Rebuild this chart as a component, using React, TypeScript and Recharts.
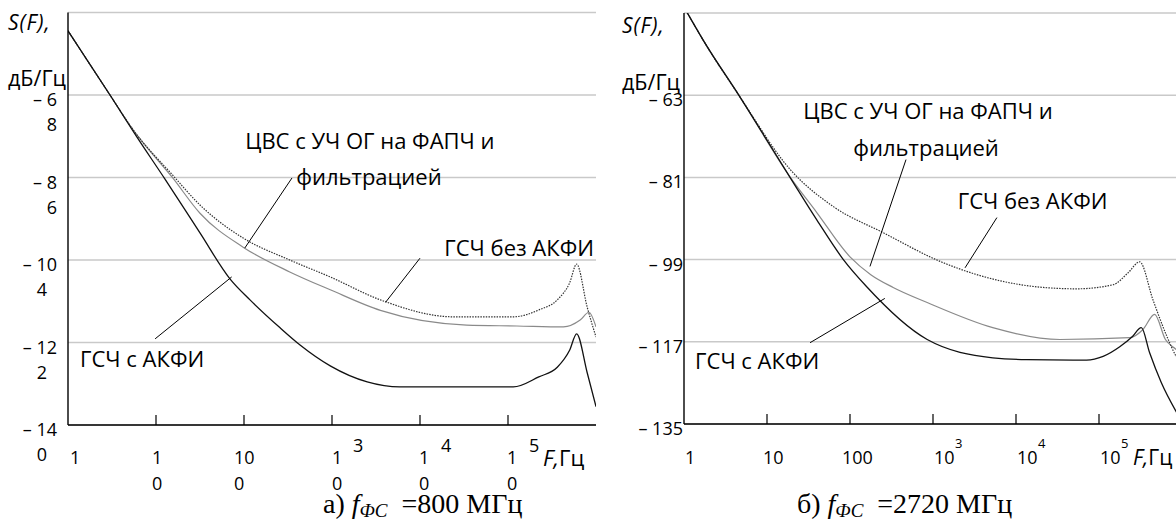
import React from 'react';
import { LineChart, Line, XAxis, YAxis, CartesianGrid, ReferenceLine, ReferenceDot } from 'recharts';

// ---------- axes ----------
const xTicks = [1, 10, 100, 1000, 10000, 100000];
const xTopTicks = [10, 100, 1000, 10000, 100000];

const leftYTicks = [-140, -122, -104, -86, -68];
const leftYLabel1 = ['– 14', '– 12', '– 10', '– 8', '– 6'];
const leftYLabel2 = ['0', '2', '4', '6', '8'];
const leftXLabelTop = ['1', '1', '10', '1', '1', '1'];
const leftXLabelSup = ['', '', '', '3', '4', '5'];
const leftXLabelBottom = ['', '0', '0', '0', '0', '0'];

const rightYTicks = [-135, -117, -99, -81, -63];
const rightYLabels = ['– 135', '– 117', '– 99', '– 81', '– 63'];
const rightXLabelMain = ['1', '10', '100', '10', '10', '10'];
const rightXLabelSup = ['', '', '', '3', '4', '5'];

// ---------- panel a) 800 MHz ----------
const leftAkfiF = [1, 3.0, 6.08, 12.6, 31.6, 69.2, 117, 257, 437, 955, 2512, 5888, 114815, 223872, 363078, 501187, 602560, 794328, 1000000];
const leftAkfiS = [-54.0, -68.0, -77.2, -86.3, -98.1, -108.1, -112.7, -118.8, -122.6, -127.1, -130.6, -131.7, -131.7, -129.5, -127.4, -123.7, -120.1, -128.6, -136];

const leftCvsF = [1, 3.0, 5.5, 15.5, 31.6, 97.7, 331, 955, 3548, 33884, 125893, 426580, 660693, 831764, 1000000];
const leftCvsS = [-54.0, -68.0, -75.6, -86.1, -93.8, -101.2, -106.6, -110.5, -115.0, -118.2, -118.4, -118.6, -117.1, -115.4, -118.6];

const leftNoAkfiF = [1, 3.0, 5.5, 15.5, 31.6, 97.7, 331, 955, 3548, 23988, 114815, 223872, 363078, 501187, 602560, 794328, 1000000];
const leftNoAkfiS = [-54.0, -68.0, -75.6, -85.5, -92.0, -99.2, -104.0, -107.7, -112.7, -116.4, -116.4, -114.9, -112.7, -109.0, -104.9, -114.3, -120.8];

// ---------- panel б) 2720 MHz ----------
const rightAkfiF = [1, 1.79, 4.73, 19.1, 39.8, 83.2, 158, 851, 5248, 13490, 70795, 112202, 177828, 251189, 323594, 407380, 562341, 851138, 1000000];
const rightAkfiS = [-43.7, -51.6, -63.4, -81.1, -90.3, -99.0, -104.9, -116.5, -120.5, -120.9, -121.0, -120.2, -118.1, -115.9, -113.9, -119.4, -125.9, -132.3, -134.5];

const rightCvsF = [1, 1.79, 4.73, 19.1, 39.8, 100, 178, 331, 851, 5248, 33884, 234423, 338844, 467735, 630957, 851138, 1000000];
const rightCvsS = [-43.7, -51.6, -63.4, -81.0, -88.7, -98.4, -102.3, -105.1, -108.4, -113.9, -116.5, -116.1, -114.3, -111.0, -116.5, -118.7, -120];

const rightNoAkfiF = [1, 1.79, 4.73, 19.1, 63.1, 251, 1259, 8511, 21380, 53703, 147911, 223872, 309030, 446684, 660693, 851138, 1000000];
const rightNoAkfiS = [-43.7, -51.6, -63.4, -79.3, -87.4, -93.1, -99.5, -104.1, -105.1, -105.4, -104.5, -101.9, -99.5, -107.8, -115.9, -120.2, -122];

// ---------- annotations (data coordinates) ----------
const seriesNames = ['ЦВС с УЧ ОГ на ФАПЧ и', 'фильтрацией', 'ГСЧ без АКФИ', 'ГСЧ с АКФИ'];
const leftNotes = [
  { text: seriesNames[0], f: 2692, s: -77.8, anchor: 'middle' },
  { text: seriesNames[1], f: 2630, s: -85.7, anchor: 'middle' },
  { text: seriesNames[2], f: 948000, s: -101.2, anchor: 'end' },
  { text: seriesNames[3], f: 1.37, s: -125.4, anchor: 'start' },
];
const leftLeaders = [
  [{ x: 351, y: -86.1 }, { x: 102, y: -101.4 }],
  [{ x: 10000, y: -103.6 }, { x: 4074, y: -113.2 }],
  [{ x: 9.77, y: -121.2 }, { x: 72.4, y: -107.7 }],
];
const rightNotes = [
  { text: seriesNames[0], f: 871, s: -66.2, anchor: 'middle' },
  { text: seriesNames[1], f: 824, s: -74.3, anchor: 'middle' },
  { text: seriesNames[2], f: 15849, s: -85.9, anchor: 'middle' },
  { text: seriesNames[3], f: 1.36, s: -120.9, anchor: 'start' },
];
const rightLeaders = [
  [{ x: 473, y: -77.1 }, { x: 174, y: -100.5 }],
  [{ x: 5888, y: -89.8 }, { x: 2432, y: -100.8 }],
  [{ x: 33, y: -117.2 }, { x: 263, y: -107.5 }],
];

const FONT = '"Open Sans", "Noto Sans", sans-serif';
const SERIF = '"Liberation Serif", "DejaVu Serif", serif';
const TICK_FS = 18;
const NOTE_FS = 22;

const zip = (F: number[], S: number[]) => F.map((f, i) => ({ f, s: S[i] }));

const leftX1Dx = [2, -4, -10, 0, -1, -1];
const rightXDx = [1, -4, -8, 1, 1, 1];

const LeftXTick = (p: any) => {
  const i = xTicks.indexOf(p.payload.value);
  const { x, y } = p;
  return (
    <g>
      {i > 0 && <line x1={x} x2={x} y1={y} y2={y - 10} stroke="#000" strokeWidth={1.2} />}
      <text x={x + leftX1Dx[i]} y={y + 32} textAnchor="start" dominantBaseline="central" fontFamily={FONT} fontSize={TICK_FS} fill="#000">
        {leftXLabelTop[i]}
      </text>
      {leftXLabelSup[i] && (
        <text x={x + 21} y={y + 20} textAnchor="start" dominantBaseline="central" fontFamily={FONT} fontSize={TICK_FS} fill="#000">
          {leftXLabelSup[i]}
        </text>
      )}
      <text x={x + leftX1Dx[i]} y={y + 58} textAnchor="start" dominantBaseline="central" fontFamily={FONT} fontSize={TICK_FS} fill="#000">
        {leftXLabelBottom[i]}
      </text>
    </g>
  );
};

const RightXTick = (p: any) => {
  const i = xTicks.indexOf(p.payload.value);
  const { x, y } = p;
  return (
    <g>
      {i > 0 && <line x1={x} x2={x} y1={y} y2={y - 10} stroke="#000" strokeWidth={1.2} />}
      <text x={x + rightXDx[i]} y={y + 33} textAnchor="start" dominantBaseline="central" fontFamily={FONT} fontSize={TICK_FS} fill="#000">
        {rightXLabelMain[i]}
      </text>
      {rightXLabelSup[i] && (
        <text x={x + 22} y={y + 19} textAnchor="start" dominantBaseline="central" fontFamily={FONT} fontSize={13} fill="#000">
          {rightXLabelSup[i]}
        </text>
      )}
    </g>
  );
};

const TopTick = (p: any) => (
  <line x1={p.x} x2={p.x} y1={p.y} y2={p.y + 10} stroke="#000" strokeWidth={1.2} />
);

const LeftYTick = (p: any) => {
  const i = leftYTicks.indexOf(p.payload.value);
  const { x, y } = p;
  const l1 = leftYLabel1[i];
  const dx2 = l1.length <= 3 ? -11 : -21;
  return (
    <g>
      <text x={x - 11} y={y + 4} textAnchor="end" dominantBaseline="central" fontFamily={FONT} fontSize={TICK_FS} fill="#000">{l1}</text>
      <text x={x + dx2} y={y + 29} textAnchor="end" dominantBaseline="central" fontFamily={FONT} fontSize={TICK_FS} fill="#000">{leftYLabel2[i]}</text>
    </g>
  );
};

const RightYTick = (p: any) => {
  const i = rightYTicks.indexOf(p.payload.value);
  return (
    <text x={p.x - 1} y={p.y + 4} textAnchor="end" dominantBaseline="central" fontFamily={FONT} fontSize={TICK_FS} fill="#000">
      {rightYLabels[i]}
    </text>
  );
};

const noteShape = (text: string, anchor: string) => (p: any) => (
  <text x={p.cx} y={p.cy} textAnchor={anchor as any} dominantBaseline="central" fontFamily={FONT} fontSize={NOTE_FS} fill="#000">
    {text}
  </text>
);

type PanelProps = {
  width: number;
  height: number;
  margin: any;
  yWidth: number;
  yDomain: [number, number];
  yTicks: number[];
  YTick: any;
  XTick: any;
  akfi: { f: number; s: number }[];
  cvs: { f: number; s: number }[];
  noAkfi: { f: number; s: number }[];
  notes: any[];
  leaders: any[];
};

const Panel = (P: PanelProps) => (
  <LineChart width={P.width} height={P.height} margin={P.margin}>
    <CartesianGrid vertical={false} stroke="#c9c9c9" strokeWidth={1.5} yAxisId={0} />
    <XAxis
      dataKey="f"
      type="number"
      scale="log"
      domain={[1, 1000000]}
      allowDataOverflow
      ticks={xTicks}
      interval={0}
      tickSize={0}
      tickMargin={0}
      tickLine={false}
      height={60}
      axisLine={{ stroke: '#000', strokeWidth: 1.4 }}
      tick={P.XTick}
    />
    <XAxis
      xAxisId="top"
      orientation="top"
      dataKey="f"
      type="number"
      scale="log"
      domain={[1, 1000000]}
      allowDataOverflow
      ticks={xTopTicks}
      interval={0}
      tickSize={0}
      tickMargin={0}
      tickLine={false}
      height={0}
      axisLine={{ stroke: '#000', strokeWidth: 1.4 }}
      tick={TopTick}
    />
    <YAxis
      type="number"
      domain={P.yDomain}
      allowDataOverflow
      ticks={P.yTicks}
      interval={0}
      width={P.yWidth}
      tickSize={0}
      tickMargin={0}
      tickLine={false}
      axisLine={{ stroke: '#000', strokeWidth: 1.4 }}
      tick={P.YTick}
    />
    <YAxis
      yAxisId="r"
      orientation="right"
      type="number"
      domain={P.yDomain}
      allowDataOverflow
      width={0}
      tick={false}
      tickLine={false}
      axisLine={{ stroke: '#000', strokeWidth: 1.4 }}
    />
    <Line data={P.cvs} dataKey="s" type="monotone" stroke="#8a8a8a" strokeWidth={1.2} dot={false} isAnimationActive={false} />
    <Line data={P.noAkfi} dataKey="s" type="monotone" stroke="#333" strokeWidth={1.2} strokeDasharray="1.5 1.2" dot={false} isAnimationActive={false} />
    <Line data={P.akfi} dataKey="s" type="monotone" stroke="#111" strokeWidth={1.3} dot={false} isAnimationActive={false} />
    {P.leaders.map((seg, k) => (
      <ReferenceLine key={'l' + k} segment={seg} stroke="#000" strokeWidth={1} ifOverflow="visible" />
    ))}
    {P.notes.map((n, k) => (
      <ReferenceDot key={'n' + k} x={n.f} y={n.s} r={0} ifOverflow="visible" shape={noteShape(n.text, n.anchor)} />
    ))}
  </LineChart>
);

export default function App() {
  return (
    <div style={{ position: 'fixed', left: 0, top: 0, width: 1176, height: 524, overflow: 'hidden', background: '#fff' }}>
      <div style={{ position: 'absolute', left: 0, top: 0 }}>
        <Panel
          width={600}
          height={524}
          margin={{ top: 12.5, right: 4, bottom: 39, left: 8 }}
          yWidth={60}
          yDomain={[-140, -50]}
          yTicks={leftYTicks}
          YTick={LeftYTick}
          XTick={LeftXTick}
          akfi={zip(leftAkfiF, leftAkfiS)}
          cvs={zip(leftCvsF, leftCvsS)}
          noAkfi={zip(leftNoAkfiF, leftNoAkfiS)}
          notes={leftNotes}
          leaders={leftLeaders}
        />
      </div>
      <div style={{ position: 'absolute', left: 600, top: 0 }}>
        <Panel
          width={590}
          height={524}
          margin={{ top: 13, right: 8, bottom: 40, left: 14 }}
          yWidth={70}
          yDomain={[-135, -45]}
          yTicks={rightYTicks}
          YTick={RightYTick}
          XTick={RightXTick}
          akfi={zip(rightAkfiF, rightAkfiS)}
          cvs={zip(rightCvsF, rightCvsS)}
          noAkfi={zip(rightNoAkfiF, rightNoAkfiS)}
          notes={rightNotes}
          leaders={rightLeaders}
        />
      </div>
      <svg width={1176} height={524} style={{ position: 'absolute', left: 0, top: 0, pointerEvents: 'none' }}>
        <text x={8} y={22} dominantBaseline="central" fontFamily={FONT} fontSize={21} fontStyle="italic" letterSpacing={1}>S(F),</text>
        <text x={8} y={77} dominantBaseline="central" fontFamily={FONT} fontSize={21.5}>дБ/Гц</text>
        <text x={622} y={25} dominantBaseline="central" fontFamily={FONT} fontSize={21} fontStyle="italic" letterSpacing={1}>S(F),</text>
        <text x={622} y={81} dominantBaseline="central" fontFamily={FONT} fontSize={21.5}>дБ/Гц</text>
        <text x={543} y={457} dominantBaseline="central" fontFamily={FONT} fontSize={22}>
          <tspan fontStyle="italic">F,</tspan>Гц
        </text>
        <text x={1133} y={457} dominantBaseline="central" fontFamily={FONT} fontSize={21}>
          <tspan fontStyle="italic">F,</tspan>Гц
        </text>
        <text x={323} y={513} fontFamily={SERIF} fontSize={28}>
          а) <tspan fontStyle="italic">f</tspan>
          <tspan fontStyle="italic" fontSize={19} dy={4}>ФС</tspan>
          <tspan dy={-4}>{'\u00A0 =800 МГц'}</tspan>
        </text>
        <text x={797} y={513} fontFamily={SERIF} fontSize={28}>
          б) <tspan fontStyle="italic">f</tspan>
          <tspan fontStyle="italic" fontSize={19} dy={4}>ФС</tspan>
          <tspan dy={-4}>{'\u00A0 =2720 МГц'}</tspan>
        </text>
      </svg>
    </div>
  );
}
